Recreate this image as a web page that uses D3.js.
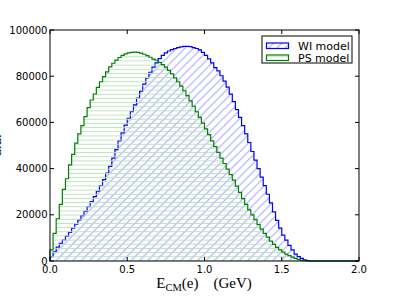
<!DOCTYPE html>
<html><head><meta charset="utf-8">
<script src="https://cdn.jsdelivr.net/npm/d3@7"></script>
<style>html,body{margin:0;padding:0;background:#fff;}svg{display:block;}</style>
</head><body>
<svg id="chart" width="399" height="299"></svg>
<script>
// ---- data ----
const histRange = [0, 2.0];
const binWidth = 0.02;
const seriesNames = ["WI model", "PS model"];
const wiValues = [1900,4000,6000,7600,9100,10800,12400,14200,16000,17800,
 19600,21500,23500,25700,27900,30200,32600,35200,38000,41000,
 44500,48200,52000,55500,58800,61800,64700,67600,70500,73500,
 76600,79300,81700,83900,85800,87600,89000,90100,90900,91500,
 92000,92400,92700,92900,92900,92800,92400,92000,91400,90300,
 89000,87500,85800,83700,82300,80200,77900,75300,72200,69000,
 65500,62200,58600,55000,51300,47400,43700,40000,36300,32600,
 28900,25200,21300,17600,14200,11200,9000,6800,4800,3000,
 1900,1100,500,200];
const psValues = [4800,12000,18300,24500,31000,35600,41600,46200,51000,55000,
 58600,62500,66400,69700,72300,75200,77600,79800,81900,84000,
 85600,87000,88100,89000,89700,90100,90300,90400,90300,90000,
 89500,88900,88200,87400,86900,86000,85000,83900,82500,81000,
 79300,77600,75700,73700,71600,69300,67000,64600,62200,59700,
 57200,54700,52000,49500,47000,44500,42200,39800,37400,35000,
 32400,29700,27000,24500,22100,20000,17900,15800,13800,12000,
 10300,8600,7200,5900,4800,3800,3000,2300,1700,1100,
 650,300,100];
const xTicks = [0.0, 0.5, 1.0, 1.5, 2.0];
const yTicks = [0, 20000, 40000, 60000, 80000, 100000];

// ---- layout ----
const L = 50, R = 359, T = 30, B = 261;
const svg = d3.select("#chart");
const x = d3.scaleLinear().domain([0, 2]).range([L, R]);
const y = d3.scaleLinear().domain([0, 100000]).range([B, T]);

const defs = svg.append("defs");
const hw = 50 / 6;
const pb = defs.append("pattern").attr("id", "hatchBlue")
  .attr("patternUnits", "userSpaceOnUse").attr("width", hw).attr("height", hw);
pb.append("path")
  .attr("d", `M${-1},1 L1,${-1} M0,${hw} L${hw},0 M${hw-1},${hw+1} L${hw+1},${hw-1}`)
  .attr("stroke", "#a3a3ff").attr("stroke-width", 1);
const gh = 25 / 6;
const pg = defs.append("pattern").attr("id", "hatchGreen")
  .attr("patternUnits", "userSpaceOnUse").attr("width", 10).attr("height", gh)
  .attr("y", 0.5);
pg.append("path").attr("d", `M0,${gh/2} L10,${gh/2}`)
  .attr("stroke", "#bfe0bf").attr("stroke-width", 1);

function stepPath(vals, closed) {
  let p = `M${x(histRange[0])},${y(0)}`;
  vals.forEach((v, i) => {
    const a = histRange[0] + i * binWidth, b = a + binWidth;
    p += `L${x(a)},${y(v)}L${x(b)},${y(v)}`;
  });
  const endX = histRange[0] + vals.length * binWidth;
  p += `L${x(endX)},${y(0)}L${x(histRange[1])},${y(0)}`;
  if (closed) p += "Z";
  return p;
}

const series = [
  {name: seriesNames[0], vals: wiValues, color: "#0000ff", hatch: "url(#hatchBlue)"},
  {name: seriesNames[1], vals: psValues, color: "#008000", hatch: "url(#hatchGreen)"}
];

series.forEach(s => {
  svg.append("path").attr("d", stepPath(s.vals, true))
    .attr("fill", s.hatch).attr("stroke", "none");
  svg.append("path").attr("d", stepPath(s.vals, false))
    .attr("fill", "none").attr("stroke", s.color).attr("stroke-width", 1.2)
    .attr("stroke-linejoin", "miter");
});

// frame
svg.append("rect").attr("x", L).attr("y", T).attr("width", R - L).attr("height", B - T)
  .attr("fill", "none").attr("stroke", "#000").attr("stroke-width", 1);

// ticks (inward, all sides)
const tk = svg.append("g").attr("stroke", "#000").attr("stroke-width", 1);
xTicks.forEach(t => {
  tk.append("line").attr("x1", x(t)).attr("x2", x(t)).attr("y1", B).attr("y2", B - 4);
  tk.append("line").attr("x1", x(t)).attr("x2", x(t)).attr("y1", T).attr("y2", T + 4);
});
yTicks.forEach(t => {
  tk.append("line").attr("x1", L).attr("x2", L + 4).attr("y1", y(t)).attr("y2", y(t));
  tk.append("line").attr("x1", R).attr("x2", R - 4).attr("y1", y(t)).attr("y2", y(t));
});

const font = "DejaVu Sans, sans-serif";
svg.append("g").selectAll("text").data(xTicks).join("text")
  .attr("x", d => x(d)).attr("y", 273).attr("text-anchor", "middle")
  .attr("font-family", font).attr("font-size", 10).text(d => d.toFixed(1));
svg.append("g").selectAll("text").data(yTicks).join("text")
  .attr("x", 47.5).attr("y", d => y(d)).attr("dy", "0.36em").attr("text-anchor", "end")
  .attr("font-family", font).attr("font-size", 10).text(d => String(d));

// x label
const xl = svg.append("text").attr("x", 204).attr("y", 288).attr("text-anchor", "middle")
  .attr("font-family", "Liberation Serif, serif").attr("font-size", 15);
xl.append("tspan").text("E");
xl.append("tspan").attr("font-size", 10.5).attr("dy", 3).text("CM");
xl.append("tspan").attr("dy", -3).text("(e)\u2003(GeV)");

// y label
svg.append("text").attr("transform", `translate(1,145) rotate(-90)`)
  .attr("text-anchor", "middle").attr("font-family", "Liberation Serif, serif")
  .attr("font-size", 15).text("a.u.");

// legend
const lg = svg.append("g");
lg.append("rect").attr("x", 262).attr("y", 36).attr("width", 90).attr("height", 27)
  .attr("fill", "#fff").attr("stroke", "#000").attr("stroke-width", 1);
series.forEach((s, i) => {
  const yy = 43 + i * 12;
  lg.append("rect").attr("x", 266.5).attr("y", yy).attr("width", 22).attr("height", 5.5)
    .attr("fill", "#fff");
  lg.append("rect").attr("x", 266.5).attr("y", yy).attr("width", 22).attr("height", 5.5)
    .attr("fill", s.hatch).attr("stroke", s.color).attr("stroke-width", 1.2);
  lg.append("text").attr("x", 298).attr("y", yy + 6.5).attr("font-family", font)
    .attr("font-size", 11).text(s.name);
});
</script>
</body></html>
